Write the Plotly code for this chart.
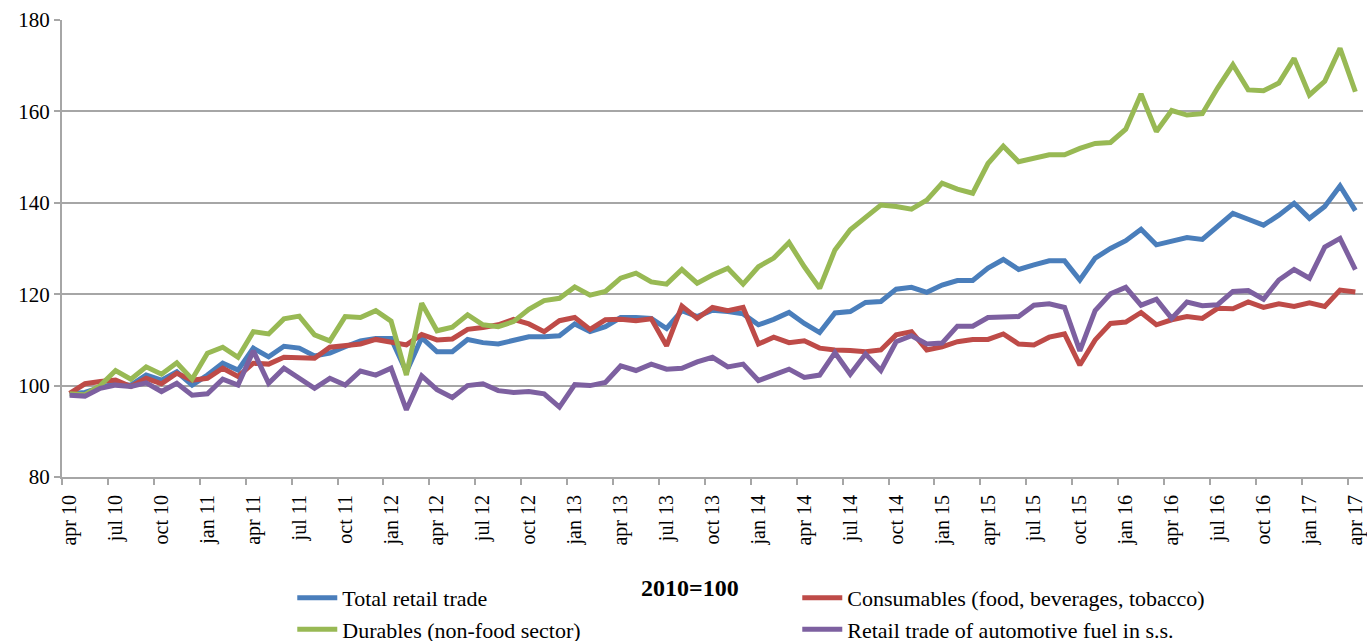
import plotly.graph_objects as go

month_names = ["jan", "feb", "mar", "apr", "may", "jun", "jul", "aug", "sep", "oct", "nov", "dec"]
# Monthly periods apr 10 .. apr 17 (85 months)
periods = [f"{month_names[(3 + k) % 12]} {10 + (3 + k) // 12}" for k in range(85)]

total_retail = [
    98.2, 98.5, 99.6, 100.4, 100.1, 102.3, 101.2, 103.0, 100.1, 102.3,
    104.9, 103.4, 108.2, 106.3, 108.6, 108.2, 106.5, 107.1, 108.5, 109.8,
    110.3, 110.3, 103.0, 110.5, 107.4, 107.4, 110.1, 109.4, 109.1, 109.8,
    110.7, 110.7, 110.9, 113.5, 111.8, 112.9, 114.9, 114.9, 114.7, 112.5,
    116.4, 115.1, 116.5, 116.2, 115.7, 113.3, 114.5, 116.0, 113.6, 111.6,
    115.9, 116.2, 118.2, 118.4, 121.1, 121.5, 120.4, 122.0, 123.0, 123.0,
    125.7, 127.6, 125.4, 126.4, 127.3, 127.3, 123.1, 127.9, 130.0, 131.7,
    134.2, 130.8, 131.5, 132.4, 132.0, 134.9, 137.7, 136.4, 135.1, 137.3,
    139.9, 136.6, 139.2, 143.7, 138.3,
]
consumables = [
    98.3, 100.4, 100.9, 101.2, 99.8, 101.6, 100.4, 102.7, 101.2, 101.6,
    103.8, 102.0, 104.9, 104.7, 106.2, 106.2, 106.0, 108.4, 108.7, 109.1,
    110.1, 109.6, 108.9, 111.2, 110.0, 110.2, 112.3, 112.7, 113.3, 114.5,
    113.5, 111.8, 114.2, 114.9, 112.3, 114.4, 114.5, 114.2, 114.6, 108.7,
    117.4, 114.7, 117.1, 116.4, 117.1, 109.1, 110.6, 109.4, 109.8, 108.2,
    107.8, 107.7, 107.4, 107.8, 111.1, 111.8, 107.8, 108.5, 109.6, 110.1,
    110.1, 111.3, 109.1, 108.9, 110.6, 111.3, 104.5, 110.0, 113.6, 113.9,
    116.0, 113.3, 114.4, 115.1, 114.7, 116.9, 116.8, 118.3, 117.1, 117.9,
    117.3, 118.1, 117.3, 120.9, 120.5,
]
durables = [
    98.2, 98.0, 100.0, 103.3, 101.4, 104.1, 102.5, 105.0, 101.4, 107.1,
    108.4, 106.2, 111.8, 111.3, 114.6, 115.2, 111.1, 109.8, 115.1, 114.9,
    116.4, 114.1, 102.3, 118.0, 112.0, 112.8, 115.5, 113.3, 112.9, 114.0,
    116.7, 118.6, 119.1, 121.6, 119.8, 120.6, 123.5, 124.6, 122.7, 122.2,
    125.4, 122.4, 124.2, 125.7, 122.2, 126.0, 127.9, 131.3, 126.0, 121.3,
    129.7, 134.1, 136.8, 139.5, 139.2, 138.6, 140.6, 144.3, 143.0, 142.1,
    148.6, 152.4, 149.0, 149.7, 150.5, 150.5, 151.9, 153.0, 153.2, 156.1,
    163.8, 155.6, 160.2, 159.2, 159.5, 165.1, 170.2, 164.7, 164.5, 166.2,
    171.6, 163.6, 166.6, 173.8, 164.3,
]
automotive_fuel = [
    97.9, 97.7, 99.4, 100.1, 99.8, 100.6, 98.7, 100.5, 97.9, 98.2,
    101.4, 100.1, 107.6, 100.5, 103.8, 101.6, 99.4, 101.6, 100.1, 103.2,
    102.3, 103.8, 94.7, 102.1, 99.1, 97.4, 100.0, 100.4, 98.9, 98.5,
    98.7, 98.2, 95.3, 100.2, 100.0, 100.7, 104.3, 103.3, 104.7, 103.6,
    103.8, 105.2, 106.2, 104.1, 104.7, 101.1, 102.3, 103.6, 101.8, 102.3,
    107.2, 102.5, 106.9, 103.3, 109.6, 110.9, 109.1, 109.3, 113.0, 113.0,
    114.9, 114.9, 115.1, 117.6, 117.9, 117.1, 107.6, 116.4, 120.1, 121.5,
    117.6, 118.9, 114.7, 118.3, 117.5, 117.7, 120.6, 120.8, 118.9, 123.1,
    125.4, 123.5, 130.3, 132.2, 125.4,
]

series_names = [
    "Total retail trade",
    "Consumables (food, beverages, tobacco)",
    "Durables (non-food sector)",
    "Retail trade of automotive fuel in s.s.",
]
series_values = [total_retail, consumables, durables, automotive_fuel]
series_colors = ["#4a7ebb", "#be4b48", "#98b954", "#7d60a0"]

FONT = "Liberation Serif"
GRID = "#a6a6a6"

fig = go.Figure()
for name, vals, col in zip(series_names, series_values, series_colors):
    fig.add_trace(go.Scatter(
        x=periods, y=vals, name=name, mode="lines",
        line=dict(color=col, width=5),
    ))

fig.update_layout(
    width=1367, height=641,
    margin=dict(l=62, r=4, t=20, b=164, autoexpand=False),
    plot_bgcolor="white", paper_bgcolor="white",
    font=dict(family=FONT, size=20, color="black"),
    showlegend=True,
    legend=dict(
        orientation="h", x=0.177, xanchor="left", y=-0.2186, yanchor="top",
        entrywidth=450, entrywidthmode="pixels",
        font=dict(family=FONT, size=22, color="black"),
        tracegroupgap=0, itemwidth=40, bgcolor="rgba(0,0,0,0)",
    ),
    annotations=[dict(
        text="<b>2010=100</b>", x=0.483, y=-0.243, xref="paper", yref="paper",
        xanchor="center", yanchor="middle", showarrow=False,
        font=dict(family=FONT, size=24, color="black"),
    )],
)
fig.update_xaxes(
    type="category", range=[-0.5, 84.5],
    tickmode="linear", tick0=0, dtick=3, tickson="boundaries",
    ticks="outside", ticklen=6, tickcolor=GRID, tickwidth=1.5,
    tickangle=-90, ticklabelstandoff=8,
    showgrid=False, showline=True, linecolor=GRID, linewidth=2,
    tickfont=dict(family=FONT, size=20), zeroline=False,
)
fig.update_yaxes(
    range=[80, 180], dtick=20, tick0=80,
    showgrid=True, gridcolor=GRID, gridwidth=2,
    showline=True, linecolor=GRID, linewidth=2,
    ticks="outside", ticklen=6, tickcolor=GRID, tickwidth=1.5,
    tickfont=dict(family=FONT, size=21), zeroline=False,
)

# remove the default page margin so the 1367x641 figure fills the window exactly
fig.write_html(
    "out.html",
    config={"displayModeBar": False},
    post_script="document.body.style.margin='0';document.body.style.overflow='hidden';",
)
